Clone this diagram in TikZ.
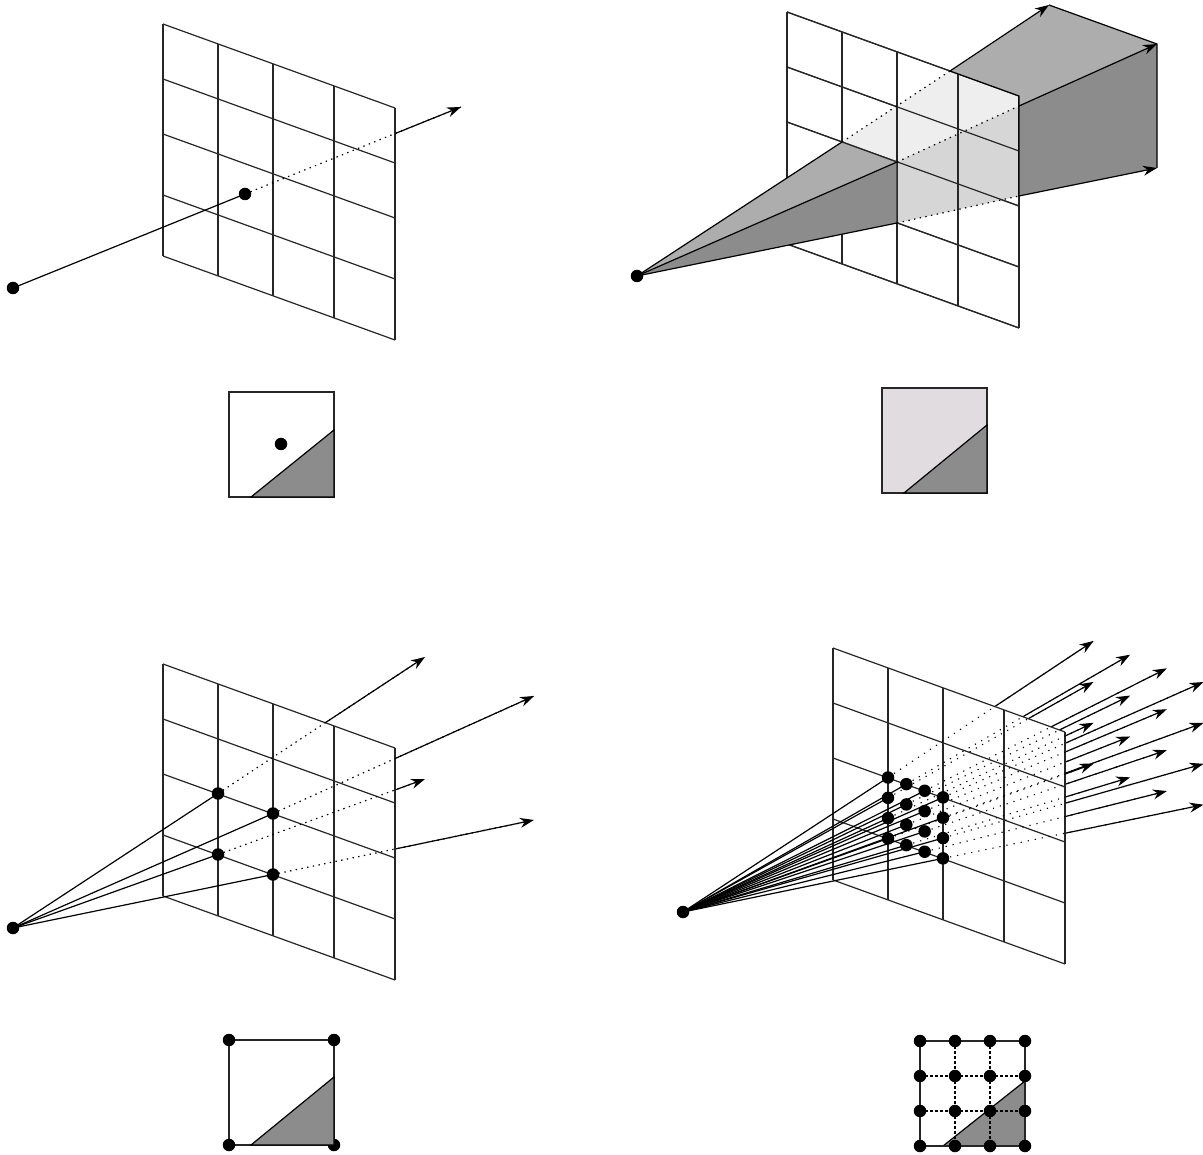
\documentclass[tikz,border=0pt]{standalone}
\usepackage{xcolor}
\usetikzlibrary{arrows.meta}
\definecolor{cellfill}{gray}{0.55}
\definecolor{uptone}{gray}{0.68}
\definecolor{planeup}{gray}{0.935}
\definecolor{planelow}{gray}{0.84}
\definecolor{pixbg}{RGB}{224,220,224}
\tikzset{
  gridline/.style={line width=1.2pt,black!85},
  ray/.style={line width=1.2pt},
  rayout/.style={ray,-{Stealth[length=14pt,width=10pt]}},
  raydot/.style={line width=1.2pt,dash pattern=on 1.4pt off 4.4pt},
  raysparse/.style={line width=1.1pt,dash pattern=on 1.2pt off 6pt},
  dot/.style={circle,fill=black,inner sep=0pt,minimum size=12.5pt},
  pixbox/.style={line width=1.2pt,black!85},
  tri/.style={draw=black,line width=1.2pt,fill=cellfill},
  subline/.style={line width=1.2pt,dash pattern=on 2.5pt off 2.5pt},
}
\newcommand{\planegrid}{
  \foreach \u in {0,55,110,171,232}
    \draw[gridline] (\u,{0.362*\u}) -- (\u,{232+0.362*\u});
  \foreach \v in {0,55,110,171,232}
    \draw[gridline] (0,\v) -- (232,{\v+84});
}
\newcommand{\planeclip}{\clip (0,0) -- (232,84) -- (232,316) -- (0,232) -- cycle;}
\newcommand{\planewhite}{\fill[white] (0,0) -- (232,84) -- (232,316) -- (0,232) -- cycle;}
\begin{document}
\begin{tikzpicture}[x=1pt,y=-1pt]
\useasboundingbox (0,0) rectangle (1203,1155);

% single ray
\coordinate (eyeA) at (13,288);
\coordinate (hitA) at (245,194);
\coordinate (tipA) at (461,107);
\draw[rayout] (hitA) -- (tipA);
\begin{scope}[shift={(163,24)}]
  \planewhite
  \planegrid
\end{scope}
\begin{scope}
  \begin{scope}[shift={(163,24)}]\planeclip\end{scope}
  \draw[raydot] (hitA) -- (tipA);
\end{scope}
\draw[ray] (eyeA) -- (hitA);
\node[dot] (eyedotA) at (eyeA) {};
\node[dot] (hitdotA) at (hitA) {};

% pixel with one sample
\draw[pixbox] (229,392) rectangle (334,497);
\node[dot] (sampleA) at (281,444) {};
\draw[tri] (251,497) -- (334,497) -- (334,430) -- cycle;

% beam through a pixel
\coordinate (eyeB) at (637,276);
\coordinate (cornA) at (842,142);
\coordinate (cornB) at (897,162);
\coordinate (cornC) at (897,223);
\coordinate (outA) at (950,71);
\coordinate (outB) at (1019,106);
\coordinate (outC) at (1019,196);
\coordinate (edgeB) at (1019,96);
\coordinate (tipBa) at (1049,5);
\coordinate (tipBb) at (1157,44);
\coordinate (tipBc) at (1157,168);
\begin{scope}[shift={(787,12)}]
  \planegrid
\end{scope}
\fill[planeup] (cornA) -- (outA) -- (edgeB) -- (outB) -- (cornB) -- cycle;
\fill[planelow] (cornB) -- (outB) -- (outC) -- (cornC) -- cycle;
\begin{scope}[shift={(787,12)}]
  \planegrid
\end{scope}
\fill[uptone] (eyeB) -- (cornA) -- (cornB) -- cycle;
\fill[cellfill] (eyeB) -- (cornB) -- (cornC) -- cycle;
\fill[uptone] (outA) -- (tipBa) -- (tipBb) -- (outB) -- (edgeB) -- cycle;
\fill[cellfill] (outB) -- (tipBb) -- (tipBc) -- (outC) -- cycle;
\draw[gridline] (cornA) -- (cornB) -- (cornC);
\draw[ray] (outA) -- (edgeB) -- (outC);
\draw[ray] (tipBa) -- (tipBb) -- (tipBc);
\draw[ray] (eyeB) -- (cornA);
\draw[ray] (eyeB) -- (cornB);
\draw[ray] (eyeB) -- (cornC);
\draw[raydot] (cornA) -- (outA);
\draw[raydot] (cornB) -- (outB);
\draw[raydot] (cornC) -- (outC);
\draw[rayout] (outA) -- (tipBa);
\draw[rayout] (outB) -- (tipBb);
\draw[rayout] (outC) -- (tipBc);
\node[dot] (eyedotB) at (eyeB) {};

% pixel fully covered by the beam
\draw[pixbox,fill=pixbg] (882,388) rectangle (987,493);
\draw[tri] (904,493) -- (987,493) -- (987,425) -- cycle;

% four corner rays
\coordinate (eyeC) at (13,928);
\coordinate (hitCa) at (218,793.5);
\coordinate (hitCb) at (273,813.5);
\coordinate (hitCc) at (218,854.5);
\coordinate (hitCd) at (273,874.5);
\coordinate (tipCa) at (425,657);
\coordinate (tipCb) at (534,696);
\coordinate (tipCc) at (425,779);
\coordinate (tipCd) at (534,820);
\foreach \n in {a,b,c,d}
  \draw[rayout] (hitC\n) -- (tipC\n);
\begin{scope}[shift={(163,664)}]
  \planewhite
  \planegrid
\end{scope}
\begin{scope}
  \begin{scope}[shift={(163,664)}]\planeclip\end{scope}
  \foreach \n in {a,b,c,d}
    \draw[raydot] (hitC\n) -- (tipC\n);
\end{scope}
\foreach \n in {a,b,c,d}{
  \draw[ray] (eyeC) -- (hitC\n);
  \node[dot] (hitdotC\n) at (hitC\n) {};
}
\node[dot] (eyedotC) at (eyeC) {};

% pixel with corner samples
\draw[pixbox] (229,1040) rectangle (334,1145);
\node[dot] (cornCa) at (229,1040) {};
\node[dot] (cornCb) at (334,1040) {};
\node[dot] (cornCc) at (229,1145) {};
\node[dot] (cornCd) at (334,1145) {};
\draw[tri] (251,1145) -- (334,1145) -- (334,1077) -- cycle;

% sixteen rays
\coordinate (eyeD) at (683,912);
\foreach \i in {0,1,2,3}
  \foreach \j in {0,1,2,3}{
    \coordinate (hitD\i\j) at ({888+18.33*\i},{777.5+6.63*\i+20.33*\j});
    \coordinate (tipD\i\j) at ({1093.5+36.67*\i},{641+13.67*\i+40.9*\j});
    \draw[rayout] (hitD\i\j) -- (tipD\i\j);
  }
\begin{scope}[shift={(833,648)}]
  \planewhite
  \planegrid
\end{scope}
\begin{scope}
  \begin{scope}[shift={(833,648)}]\planeclip\end{scope}
  \foreach \i in {0,1,2,3}
    \foreach \j in {0,1,2,3}
      \draw[raysparse] (hitD\i\j) -- (tipD\i\j);
\end{scope}
\foreach \i in {0,1,2,3}
  \foreach \j in {0,1,2,3}{
    \draw[ray] (eyeD) -- (hitD\i\j);
    \node[dot] (hitdotD\i\j) at (hitD\i\j) {};
  }
\node[dot] (eyedotD) at (eyeD) {};

% pixel with sixteen samples
\draw[tri] (943,1146) -- (1025,1146) -- (1025,1081) -- cycle;
\draw[pixbox] (920,1041) rectangle (1025,1146);
\foreach \p in {955,990}
  \draw[subline] (\p,1041) -- (\p,1146);
\foreach \q in {1076,1111}
  \draw[subline] (920,\q) -- (1025,\q);
\foreach \p in {920,955,990,1025}
  \foreach \q in {1041,1076,1111,1146}
    \node[dot] (cell\p\q) at (\p,\q) {};

\end{tikzpicture}
\end{document}
